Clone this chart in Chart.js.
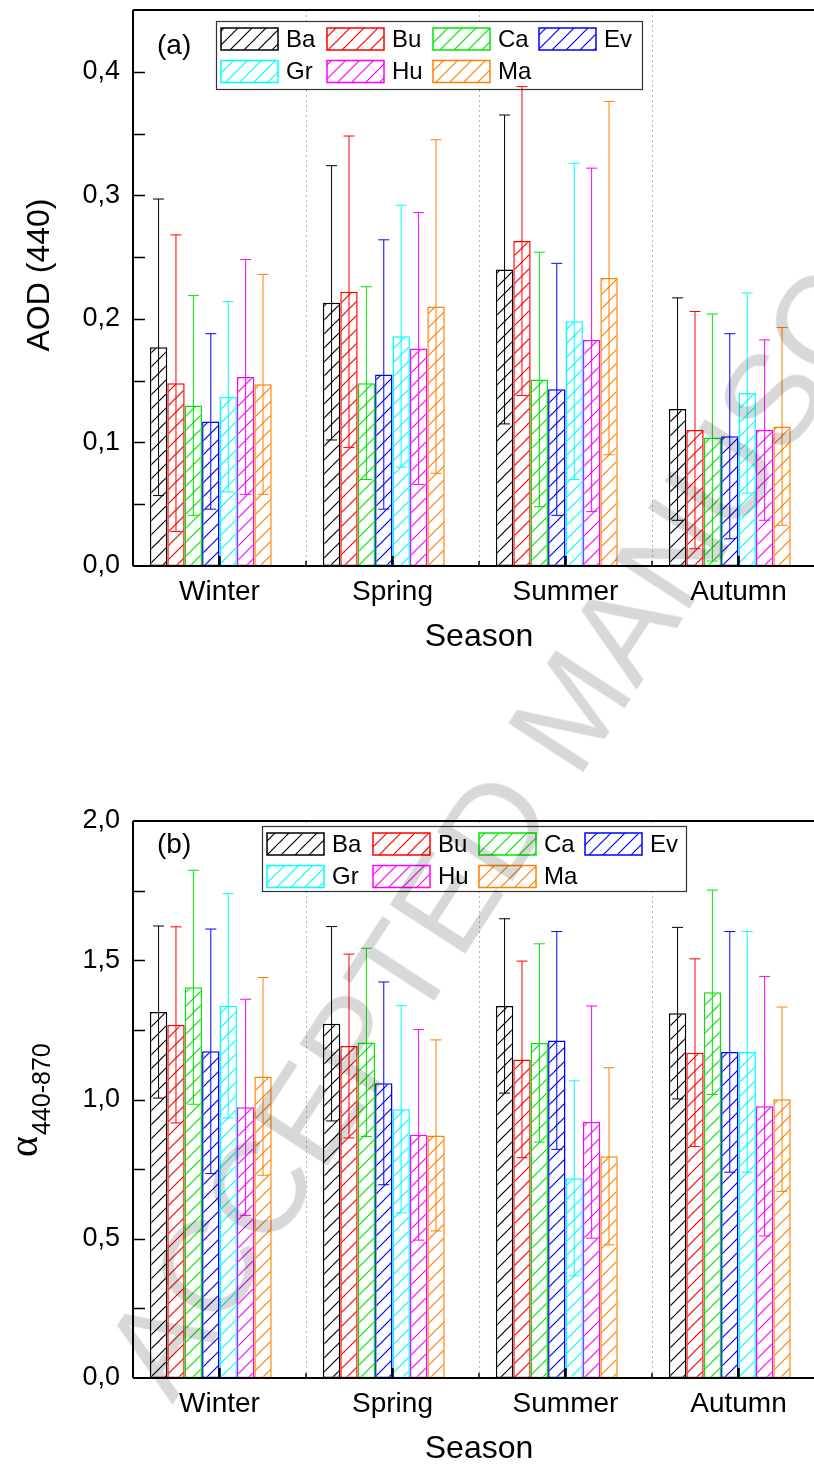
<!DOCTYPE html>
<html>
<head>
<meta charset="utf-8">
<script src="https://cdn.jsdelivr.net/npm/chart.js@4.4.1/dist/chart.umd.min.js"></script>
<style>
  html, body { margin: 0; padding: 0; background: #fff; overflow: hidden; }
  body { width: 814px; height: 1475px; position: relative; }
  canvas { position: absolute; left: 0; }
  #chartA { top: 0; }
  #chartB { top: 800px; }
  #watermark {
    position: absolute; left: 80px; top: 1345px;
    transform-origin: 0 0; transform: rotate(-57deg);
    font-family: "Liberation Sans", Arial, sans-serif; font-size: 130px; line-height: 1;
    white-space: nowrap; color: #d8d8d8;
    mix-blend-mode: multiply; pointer-events: none; z-index: 5;
  }
</style>
</head>
<body>
<canvas id="chartA" width="825" height="666"></canvas>
<canvas id="chartB" width="825" height="678"></canvas>
<div id="watermark">ACCEPTED MANUSCRIPT</div>
<script>
// categories and series
const seasons = ['Winter', 'Spring', 'Summer', 'Autumn'];
const sites = ['Ba', 'Bu', 'Ca', 'Ev', 'Gr', 'Hu', 'Ma'];
const siteColors = ['#000000', '#ff0000', '#00e600', '#0000ff', '#00ffff', '#ff00ff', '#ff8000'];

// AOD (440) mean per site, one value per season
const aodMean = [
  [0.177, 0.213, 0.240, 0.127],
  [0.148, 0.222, 0.263, 0.110],
  [0.130, 0.148, 0.151, 0.104],
  [0.117, 0.155, 0.143, 0.105],
  [0.137, 0.186, 0.198, 0.140],
  [0.153, 0.176, 0.183, 0.110],
  [0.147, 0.210, 0.233, 0.113]
];
// AOD standard deviation
const aodSd = [
  [0.120, 0.111, 0.125, 0.090],
  [0.120, 0.126, 0.125, 0.096],
  [0.089, 0.078, 0.103, 0.100],
  [0.071, 0.109, 0.102, 0.083],
  [0.077, 0.106, 0.128, 0.081],
  [0.095, 0.110, 0.139, 0.073],
  [0.089, 0.135, 0.143, 0.080]
];
// Angstrom exponent 440-870 mean
const alphaMean = [
  [1.314, 1.272, 1.336, 1.310],
  [1.268, 1.192, 1.144, 1.168],
  [1.403, 1.205, 1.203, 1.385],
  [1.173, 1.058, 1.212, 1.171],
  [1.337, 0.965, 0.717, 1.171],
  [0.972, 0.873, 0.919, 0.976],
  [1.083, 0.871, 0.796, 1.001]
];
// Angstrom exponent standard deviation
const alphaSd = [
  [0.309, 0.349, 0.313, 0.308],
  [0.352, 0.330, 0.353, 0.337],
  [0.420, 0.338, 0.356, 0.367],
  [0.439, 0.364, 0.391, 0.432],
  [0.403, 0.372, 0.350, 0.432],
  [0.388, 0.378, 0.417, 0.466],
  [0.355, 0.343, 0.318, 0.331]
];

const FONT = '"Liberation Sans", Arial, sans-serif';
Chart.defaults.font.family = FONT;
Chart.defaults.color = '#000';

// diagonal hatch like the Origin fill
function hatch(color) {
  const c = document.createElement('canvas');
  c.width = 14; c.height = 14;
  const g = c.getContext('2d');
  g.fillStyle = '#fff';
  g.fillRect(0, 0, 14, 14);
  g.strokeStyle = color;
  g.lineWidth = 1.2;
  g.beginPath();
  g.moveTo(-7, 7); g.lineTo(7, -7);
  g.moveTo(0, 14); g.lineTo(14, 0);
  g.moveTo(7, 21); g.lineTo(21, 7);
  g.stroke();
  return g.createPattern(c, 'repeat');
}

const errorBars = {
  id: 'errorBars',
  afterDatasetsDraw(chart) {
    const ctx = chart.ctx;
    const y = chart.scales.y;
    chart.data.datasets.forEach((ds, i) => {
      if (!ds.errors) return;
      chart.getDatasetMeta(i).data.forEach((bar, j) => {
        const hi = y.getPixelForValue(ds.data[j] + ds.errors[j]);
        const lo = y.getPixelForValue(ds.data[j] - ds.errors[j]);
        ctx.save();
        ctx.strokeStyle = ds.borderColor;
        ctx.lineWidth = 1;
        ctx.beginPath();
        ctx.moveTo(bar.x, hi); ctx.lineTo(bar.x, lo);
        ctx.moveTo(bar.x - 5.5, hi); ctx.lineTo(bar.x + 5.5, hi);
        ctx.moveTo(bar.x - 5.5, lo); ctx.lineTo(bar.x + 5.5, lo);
        ctx.stroke();
        ctx.restore();
      });
    });
  }
};

// frame, inner ticks, separators, panel letter, axis title, legend
const deco = {
  id: 'deco',
  beforeDatasetsDraw(chart, args, o) {
    const {ctx, chartArea: a, scales: {x}} = chart;
    ctx.save();
    ctx.strokeStyle = '#b5b5b5';
    ctx.lineWidth = 1;
    ctx.setLineDash([2, 3]);
    for (let i = 0; i < seasons.length - 1; i++) {
      const sx = Math.round((x.getPixelForValue(i) + x.getPixelForValue(i + 1)) / 2) + 0.5;
      ctx.beginPath(); ctx.moveTo(sx, a.top); ctx.lineTo(sx, a.bottom); ctx.stroke();
    }
    ctx.setLineDash([]);

    // legend box (error bars may run over it)
    const L = o.legend;
    ctx.fillStyle = '#fff';
    ctx.fillRect(L.x, L.y, L.w, L.h);
    ctx.strokeStyle = '#333';
    ctx.lineWidth = 1.2;
    ctx.strokeRect(L.x + 0.5, L.y + 0.5, L.w, L.h);
    ctx.font = '24px ' + FONT;
    ctx.textAlign = 'left';
    ctx.textBaseline = 'middle';
    let k = 0;
    chart.data.datasets.forEach(ds => {
      if (!ds.errors) return;
      const col = k % 4, row = Math.floor(k / 4);
      const sx = L.x + 5 + col * 106, sy = L.y + 7 + row * 32.5;
      ctx.fillStyle = ds.backgroundColor;
      ctx.fillRect(sx, sy, 57, 22);
      ctx.strokeStyle = ds.borderColor;
      ctx.lineWidth = 1.5;
      ctx.strokeRect(sx, sy, 57, 22);
      ctx.fillStyle = '#000';
      ctx.fillText(ds.label, sx + 65, sy + 12);
      k++;
    });
    ctx.restore();
  },
  afterDraw(chart, args, o) {
    const {ctx, chartArea: a, scales: {x, y}} = chart;
    ctx.save();
    ctx.strokeStyle = '#000';
    // axes and top frame
    ctx.lineWidth = 2;
    ctx.beginPath();
    ctx.moveTo(a.left, a.top); ctx.lineTo(a.right, a.top);
    ctx.moveTo(a.left, a.top); ctx.lineTo(a.left, a.bottom);
    ctx.moveTo(a.left, a.bottom); ctx.lineTo(a.right, a.bottom);
    ctx.stroke();
    // y ticks pointing inward
    ctx.lineWidth = 1.5;
    for (let v = o.minorStep; v < y.max - 1e-9; v += o.minorStep) {
      const py = Math.round(y.getPixelForValue(v)) + 0.5;
      ctx.beginPath(); ctx.moveTo(a.left, py); ctx.lineTo(a.left + 12, py); ctx.stroke();
    }
    // x ticks
    for (let i = 0; i < seasons.length; i++) {
      const cx = x.getPixelForValue(i);
      ctx.lineWidth = 2.5;
      ctx.beginPath(); ctx.moveTo(cx, a.bottom); ctx.lineTo(cx, a.bottom - 10); ctx.stroke();
      if (i < seasons.length - 1) {
        const bx = (cx + x.getPixelForValue(i + 1)) / 2;
        ctx.lineWidth = 1.5;
        ctx.beginPath(); ctx.moveTo(bx, a.bottom); ctx.lineTo(bx, a.bottom - 5); ctx.stroke();
      }
    }
    // panel letter
    ctx.fillStyle = '#000';
    ctx.font = '28px ' + FONT;
    ctx.textAlign = 'left';
    ctx.textBaseline = 'middle';
    ctx.fillText(o.panel, o.panelX, o.panelY);
    // y axis title
    ctx.translate(o.titleX, o.titleY);
    ctx.rotate(-Math.PI / 2);
    if (o.sub) {
      ctx.textBaseline = 'alphabetic';
      ctx.font = '40px "Liberation Serif", "DejaVu Serif", serif';
      ctx.fillText(o.title, 0, 0);
      const w = ctx.measureText(o.title).width;
      ctx.font = '25px ' + FONT;
      ctx.fillText(o.sub, w + 1, 13);
    } else {
      ctx.textAlign = 'center';
      ctx.font = '32px ' + FONT;
      ctx.fillText(o.title, 0, 0);
    }
    ctx.restore();
  }
};

function buildChart(id, means, sds, yMax, yStep, decoOpts, padTop) {
  const datasets = sites.map((s, i) => ({
    label: s,
    data: means[i],
    errors: sds[i],
    backgroundColor: hatch(siteColors[i]),
    borderColor: siteColors[i],
    borderWidth: 1.5,
    borderSkipped: false
  }));
  // empty slot: Origin leaves room for one more bar to the right of each group
  datasets.push({ label: '', data: seasons.map(() => null) });

  return new Chart(document.getElementById(id), {
    type: 'bar',
    data: { labels: seasons, datasets },
    options: {
      responsive: false,
      animation: false,
      datasets: { bar: { barPercentage: 1, categoryPercentage: 0.805 } },
      layout: { padding: { top: padTop, left: 0, right: 0, bottom: 0 } },
      plugins: {
        legend: { display: false },
        tooltip: { enabled: false },
        deco: decoOpts
      },
      scales: {
        x: {
          grid: { display: false },
          border: { display: false },
          ticks: { font: { size: 28 }, color: '#000', padding: 1 },
          title: { display: true, text: 'Season', font: { size: 32 }, color: '#000', padding: { top: 0, bottom: 10 } },
          afterFit: s => { s.height = 100; s.paddingLeft = 0; s.paddingRight = 0; }
        },
        y: {
          min: 0,
          max: yMax,
          grid: { display: false },
          border: { display: false },
          ticks: {
            stepSize: yStep,
            font: { size: 27 },
            color: '#000',
            padding: 5,
            callback: v => Math.abs(v / yStep - Math.round(v / yStep)) < 1e-6 ? v.toFixed(1).replace('.', ',') : ''
          },
          afterFit: s => { s.width = 133; s.paddingTop = 0; s.paddingBottom = 0; }
        }
      }
    },
    plugins: [errorBars, deco]
  });
}

buildChart('chartA', aodMean, aodSd, 0.45, 0.1, {
  minorStep: 0.05,
  panel: '(a)', panelX: 157, panelY: 46,
  title: 'AOD (440)', titleX: 40, titleY: 275,
  legend: { x: 216, y: 21, w: 426, h: 68 }
}, 10);

buildChart('chartB', alphaMean, alphaSd, 2.0, 0.5, {
  minorStep: 0.25,
  panel: '(b)', panelX: 157, panelY: 45,
  title: 'α', sub: '440-870', titleX: 37, titleY: 357,
  legend: { x: 262, y: 26, w: 424, h: 65 }
}, 21);
</script>
</body>
</html>
